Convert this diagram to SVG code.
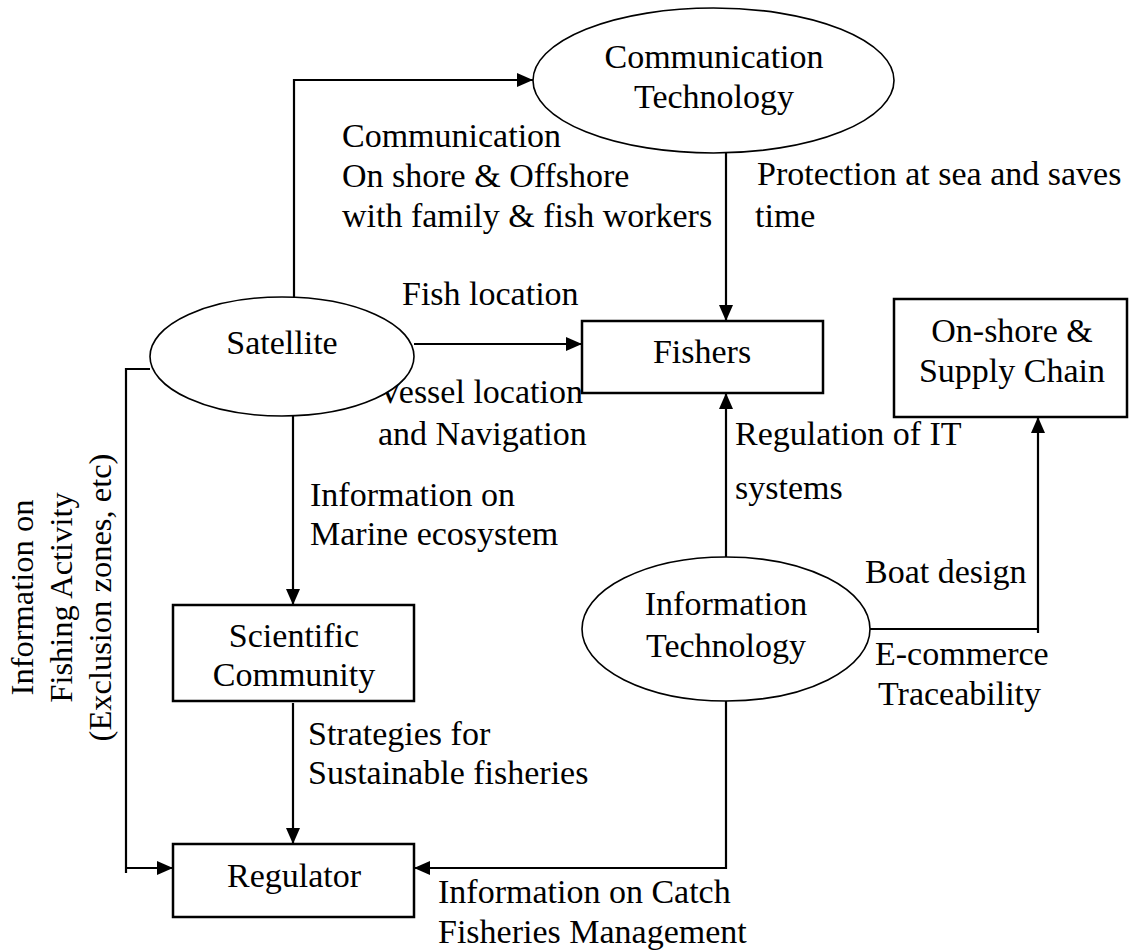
<svg xmlns="http://www.w3.org/2000/svg" width="1129" height="952" viewBox="0 0 1129 952">
  <style>
    text { font-family: "Liberation Serif", "Times New Roman", serif; font-size: 34px; fill: #000; }
    .c { text-anchor: middle; }
    .v { font-size: 32.5px; text-anchor: middle; }
    .node { fill: #fff; stroke: #000; }
    ellipse.node { stroke-width: 1.6; }
    rect.node { stroke-width: 2.5; }
    .edge { fill: none; stroke: #000; stroke-width: 2.2; }
  </style>
  <defs>
    <marker id="arrow" markerUnits="userSpaceOnUse" markerWidth="16" markerHeight="14" refX="16" refY="7" orient="auto">
      <path d="M0,0 L16,7 L0,14 Z" fill="#000"/>
    </marker>
  </defs>

  <rect width="1129" height="952" fill="#fff"/>

  <!-- connectors -->
  <g id="connectors">
    <path class="edge" d="M294,297 V80 H533" marker-end="url(#arrow)"/>
    <path class="edge" d="M726,153 V321" marker-end="url(#arrow)"/>
    <path class="edge" d="M414,344 H582" marker-end="url(#arrow)"/>
    <path class="edge" d="M293,416 V605" marker-end="url(#arrow)"/>
    <path class="edge" d="M150,369 H126 V873 M126,868 H173" marker-end="url(#arrow)"/>
    <path class="edge" d="M293,703 V844" marker-end="url(#arrow)"/>
    <path class="edge" d="M726,701 V868 H414" marker-end="url(#arrow)"/>
    <path class="edge" d="M726,557 V393" marker-end="url(#arrow)"/>
    <path class="edge" d="M870,629 H1038 M1038,633 V417" marker-end="url(#arrow)"/>
  </g>

  <!-- connector labels -->
  <g id="labels">
    <text x="342" y="147">Communication</text>
    <text x="342" y="187">On shore &amp; Offshore</text>
    <text x="342" y="227">with family &amp; fish workers</text>
    <text x="757" y="185">Protection at sea and saves</text>
    <text x="755" y="227">time</text>
    <text x="402" y="305">Fish location</text>
    <text x="378" y="403">Vessel location</text>
    <text x="378" y="445">and Navigation</text>
    <text x="310" y="506">Information on</text>
    <text x="310" y="545">Marine ecosystem</text>
    <text x="308" y="745">Strategies for</text>
    <text x="308" y="784">Sustainable fisheries</text>
    <text x="438" y="903">Information on Catch</text>
    <text x="438" y="943">Fisheries Management</text>
    <text x="735" y="445">Regulation of IT</text>
    <text x="735" y="499">systems</text>
    <text x="865" y="583">Boat design</text>
    <text x="875" y="665">E-commerce</text>
    <text x="878" y="705">Traceability</text>
    <g transform="translate(33,597.5) rotate(-90)">
      <text class="v" x="0" y="0">Information on</text>
      <text class="v" x="0" y="39">Fishing Activity</text>
      <text class="v" x="0" y="78">(Exclusion zones, etc)</text>
    </g>
  </g>

  <!-- nodes -->
  <g id="communication-technology">
    <ellipse class="node" cx="713.5" cy="80.5" rx="180.5" ry="72.5"/>
    <text class="c" x="714" y="68">Communication</text>
    <text class="c" x="714" y="108">Technology</text>
  </g>
  <g id="satellite">
    <ellipse class="node" cx="282" cy="356.5" rx="132" ry="59.5"/>
    <text class="c" x="282" y="354">Satellite</text>
  </g>
  <g id="fishers">
    <rect class="node" x="582" y="321" width="241" height="72"/>
    <text class="c" x="702" y="363">Fishers</text>
  </g>
  <g id="onshore-supply-chain">
    <rect class="node" x="894" y="299" width="233" height="118"/>
    <text class="c" x="1012" y="342">On-shore &amp;</text>
    <text class="c" x="1012" y="382">Supply Chain</text>
  </g>
  <g id="scientific-community">
    <rect class="node" x="173" y="605" width="241" height="96"/>
    <text class="c" x="294" y="647">Scientific</text>
    <text class="c" x="294" y="686">Community</text>
  </g>
  <g id="information-technology">
    <ellipse class="node" cx="726" cy="629" rx="144" ry="72"/>
    <text class="c" x="726" y="615">Information</text>
    <text class="c" x="726" y="657">Technology</text>
  </g>
  <g id="regulator">
    <rect class="node" x="173" y="844" width="241" height="73"/>
    <text class="c" x="294" y="887">Regulator</text>
  </g>
</svg>
